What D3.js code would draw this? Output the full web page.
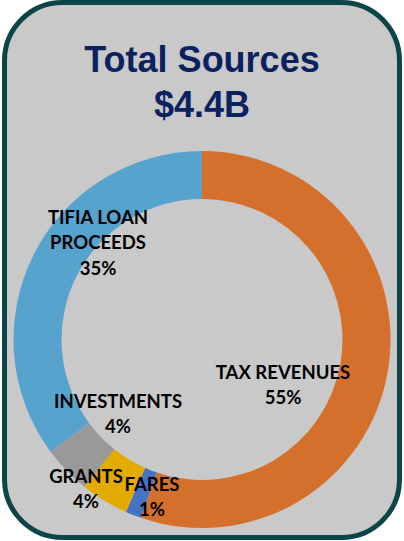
<!DOCTYPE html>
<html>
<head>
<meta charset="utf-8">
<script src="https://cdn.jsdelivr.net/npm/d3@7"></script>
<style>
  body { margin: 0; background: #ffffff; }
  svg { display: block; }
</style>
</head>
<body>
<div id="canvas"></div>
<script>
// ---- DATA ----
var categories = ['TAX REVENUES', 'FARES', 'GRANTS', 'INVESTMENTS', 'TIFIA LOAN PROCEEDS'];
var amounts = [2.42, 0.06, 0.18, 0.18, 1.54];   // $B
var shareLabels = ['55%', '1%', '4%', '4%', '35%'];
var colors = ['#d4702b', '#4472c4', '#e3aa00', '#999999', '#56a3cd'];
var title = ['Total Sources', '$4.4B'];

// label lines and anchor points (picture coords, relative to donut centre)
var labelLines = [
    ['TAX REVENUES', '55%'],
    ['FARES', '1%'],
    ['GRANTS', '4%'],
    ['INVESTMENTS', '4%'],
    ['TIFIA LOAN', 'PROCEEDS', '35%']
];
var labelPos = [[81, 39], [-50, 151], [-116, 143], [-84, 68], [-104, -116]];

// ---- CONVENTIONS ----
var outerWidth = 404,
    outerHeight = 541;

var svg = d3.select('#canvas')
    .append('svg')
    .attr('width', outerWidth)
    .attr('height', outerHeight);

// card
svg.append('rect')
    .attr('x', 4.5)
    .attr('y', 2.5)
    .attr('width', 395)
    .attr('height', 535)
    .attr('rx', 58)
    .attr('ry', 58)
    .style('fill', '#c9c9c9')
    .style('stroke', '#0b4548')
    .style('stroke-width', 5);

// title
svg.selectAll('.title')
    .data(title)
    .enter()
    .append('text')
    .attr('class', 'title')
    .attr('x', 202)
    .attr('y', function(d, i){ return 72 + i * 45; })
    .attr('text-anchor', 'middle')
    .style('font-family', '"Liberation Sans", Arial, sans-serif')
    .style('font-weight', 'bold')
    .style('font-size', '36px')
    .style('fill', '#0b2160')
    .text(function(d){ return d; });

// ---- DONUT ----
var cx = 202, cy = 339.5;
var plot = svg.append('g')
    .attr('transform', 'translate(' + cx + ',' + cy + ')');

var pie = d3.pie()
    .sort(null)
    .value(function(d){ return d; });

var arc = d3.arc()
    .innerRadius(140.5)
    .outerRadius(188.5);

plot.selectAll('.slice')
    .data(pie(amounts))
    .enter()
    .append('path')
    .attr('class', 'slice')
    .attr('d', arc)
    .style('fill', function(d, i){ return colors[i]; });

// labels
var labels = plot.selectAll('.label')
    .data(labelLines)
    .enter()
    .append('text')
    .attr('class', 'label')
    .attr('text-anchor', 'middle')
    .style('font-family', 'Lato, "Open Sans", sans-serif')
    .style('font-weight', 'bold')
    .style('font-size', '18.5px')
    .style('fill', '#000000');

labels.selectAll('tspan')
    .data(function(d, i){ return d.map(function(t){ return {t: t, i: i}; }); })
    .enter()
    .append('tspan')
    .attr('x', function(d){ return labelPos[d.i][0]; })
    .attr('y', function(d, j){ return labelPos[d.i][1] + j * 25.5; })
    .text(function(d){ return d.t; });
</script>
</body>
</html>
